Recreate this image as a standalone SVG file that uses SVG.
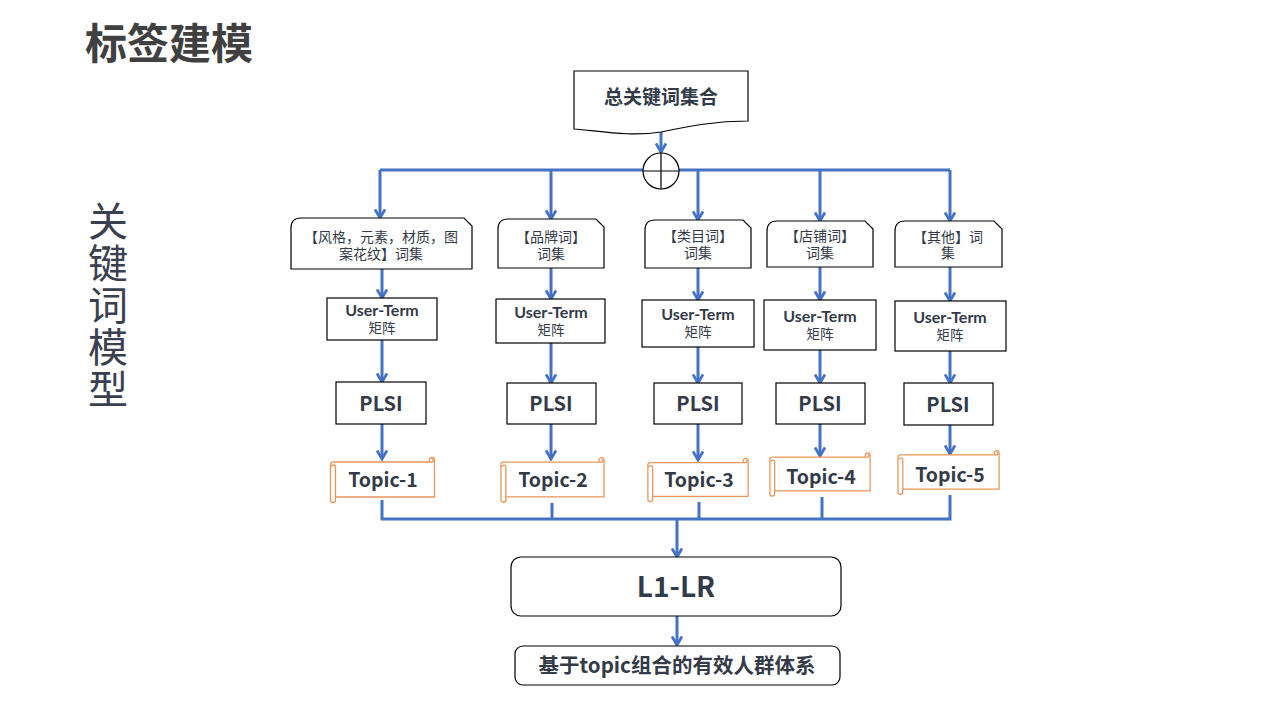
<svg xmlns="http://www.w3.org/2000/svg" width="1280" height="720" viewBox="0 0 1280 720">
<defs>
<style>
.t{font-family:"Noto Sans CJK SC","Microsoft YaHei",sans-serif;fill:#333a48;text-anchor:middle}
.t2{font-family:Lato,"Noto Sans CJK SC",sans-serif;fill:#333a48;text-anchor:middle}
.b{font-weight:bold}
.box{fill:#fff;stroke:#000;stroke-width:1.2}
.scroll{fill:#fff;stroke:#e8955a;stroke-width:1.3}
.c{fill:none;stroke:#4472c4;stroke-width:3}
</style>
<marker id="ah" viewBox="0 0 12 12" refX="10" refY="6" markerWidth="12" markerHeight="12" markerUnits="userSpaceOnUse" orient="auto">
<path d="M1.5,1 L10,6 L1.5,11" fill="none" stroke="#4472c4" stroke-width="2.8"/>
</marker>
<symbol id="scr" viewBox="0 0 110 46" width="110" height="46" overflow="visible">
<path class="scroll" d="M6,5 H102 V3 a2.5,2.5 0 0 1 5,0 V40 H8 V43 a2.5,2.5 0 0 1 -5,0 V8 a2.5,2.5 0 0 1 3,-3 Z"/>
<path class="scroll" d="M102,5 H104.5 a1.2,1.2 0 0 0 0,-2.5 M8,40 V10 a2,2 0 0 0 -4,0"/>
</symbol>
</defs>
<rect width="1280" height="720" fill="#fff"/>

<text class="t b" x="169" y="59" font-size="42" style="fill:#404040">标签建模</text>
<g id="side">
<text x="108" y="201" font-family="Noto Sans CJK SC, sans-serif" font-size="40" writing-mode="vertical-rl" letter-spacing="2" style="fill:#3a4050;text-anchor:start">关键词模型</text>
</g>

<g id="connectors">
<path class="c" d="M661,130 V152" marker-end="url(#ah)"/>
<path class="c" d="M380,170 H950"/>
<path class="c" d="M380,170 V218" marker-end="url(#ah)"/>
<path class="c" d="M551,170 V219" marker-end="url(#ah)"/>
<path class="c" d="M698,170 V220" marker-end="url(#ah)"/>
<path class="c" d="M820,170 V221" marker-end="url(#ah)"/>
<path class="c" d="M950,170 V221" marker-end="url(#ah)"/>

<path class="c" d="M382,269 V298" marker-end="url(#ah)"/>
<path class="c" d="M551,268 V299" marker-end="url(#ah)"/>
<path class="c" d="M698,268 V300" marker-end="url(#ah)"/>
<path class="c" d="M820,267 V300" marker-end="url(#ah)"/>
<path class="c" d="M950,267 V301" marker-end="url(#ah)"/>

<path class="c" d="M382,340 V382" marker-end="url(#ah)"/>
<path class="c" d="M551,343 V383" marker-end="url(#ah)"/>
<path class="c" d="M698,347 V383" marker-end="url(#ah)"/>
<path class="c" d="M820,350 V383" marker-end="url(#ah)"/>
<path class="c" d="M950,351 V383" marker-end="url(#ah)"/>

<path class="c" d="M382,424 V459" marker-end="url(#ah)"/>
<path class="c" d="M551,424 V459" marker-end="url(#ah)"/>
<path class="c" d="M698,424 V460" marker-end="url(#ah)"/>
<path class="c" d="M820,424 V456" marker-end="url(#ah)"/>
<path class="c" d="M950,425 V454" marker-end="url(#ah)"/>

<path class="c" d="M382,500 V519 H950 V495"/>
<path class="c" d="M552,503 V519"/>
<path class="c" d="M699,502 V519"/>
<path class="c" d="M822,497 V519"/>
<path class="c" d="M677,519 V557" marker-end="url(#ah)"/>
<path class="c" d="M677,616 V645" marker-end="url(#ah)"/>
</g>

<g id="doc">
<path class="box" d="M574,71 H748 V121 C715,121 690,126 661,132 C630,137 600,131 574,129 Z"/>
<text class="t b" x="661" y="104" font-size="19">总关键词集合</text>
</g>
<g id="sum">
<circle cx="661" cy="171" r="18" fill="#fff" stroke="#000" stroke-width="1.2"/>
<path d="M643,171 H679 M661,153 V189" stroke="#000" stroke-width="1.2"/>
</g>

<g id="set1">
<path class="box" d="M291,269 V228 Q291,218 301,218 H464 L472,226 V269 Z"/>
<text class="t2" font-size="14"><tspan x="381" y="242">【风格，元素，材质，图</tspan><tspan x="381" y="259">案花纹】词集</tspan></text>
</g>
<g id="set2">
<path class="box" d="M498,268 V229 Q498,219 508,219 H596 L604,227 V268 Z"/>
<text class="t2" font-size="14"><tspan x="551" y="242">【品牌词】</tspan><tspan x="551" y="259">词集</tspan></text>
</g>
<g id="set3">
<path class="box" d="M645,268 V230 Q645,220 655,220 H743 L751,228 V268 Z"/>
<text class="t2" font-size="14"><tspan x="698" y="241">【类目词】</tspan><tspan x="698" y="258">词集</tspan></text>
</g>
<g id="set4">
<path class="box" d="M767,267 V231 Q767,221 777,221 H865 L873,229 V267 Z"/>
<text class="t2" font-size="14"><tspan x="820" y="241">【店铺词】</tspan><tspan x="820" y="258">词集</tspan></text>
</g>
<g id="set5">
<path class="box" d="M895,267 V231 Q895,221 905,221 H994 L1002,229 V267 Z"/>
<text class="t2" font-size="14"><tspan x="948" y="242">【其他】词</tspan><tspan x="948" y="258">集</tspan></text>
</g>

<g id="ut1"><rect class="box" x="327" y="298" width="110" height="42"/>
<text class="t2" font-size="13.5"><tspan x="382" y="316" class="b" font-size="16">User-Term</tspan><tspan x="382" y="333">矩阵</tspan></text></g>
<g id="ut2"><rect class="box" x="496" y="299" width="109" height="44"/>
<text class="t2" font-size="13.5"><tspan x="551" y="318" class="b" font-size="16">User-Term</tspan><tspan x="551" y="335">矩阵</tspan></text></g>
<g id="ut3"><rect class="box" x="642" y="300" width="112" height="47"/>
<text class="t2" font-size="13.5"><tspan x="698" y="320" class="b" font-size="16">User-Term</tspan><tspan x="698" y="337">矩阵</tspan></text></g>
<g id="ut4"><rect class="box" x="764" y="300" width="112" height="50"/>
<text class="t2" font-size="13.5"><tspan x="820" y="322" class="b" font-size="16">User-Term</tspan><tspan x="820" y="339">矩阵</tspan></text></g>
<g id="ut5"><rect class="box" x="895" y="301" width="111" height="50"/>
<text class="t2" font-size="13.5"><tspan x="950" y="323" class="b" font-size="16">User-Term</tspan><tspan x="950" y="340">矩阵</tspan></text></g>

<g id="p1"><rect class="box" x="336" y="382" width="90" height="42"/><text class="t b" x="381" y="411" font-size="20">PLSI</text></g>
<g id="p2"><rect class="box" x="507" y="383" width="89" height="41"/><text class="t b" x="551" y="411" font-size="20">PLSI</text></g>
<g id="p3"><rect class="box" x="654" y="383" width="88" height="41"/><text class="t b" x="698" y="411" font-size="20">PLSI</text></g>
<g id="p4"><rect class="box" x="776" y="383" width="89" height="41"/><text class="t b" x="820" y="411" font-size="20">PLSI</text></g>
<g id="p5"><rect class="box" x="904" y="383" width="89" height="42"/><text class="t b" x="948" y="412" font-size="20">PLSI</text></g>

<g id="topic1"><use href="#scr" x="327" y="457" width="111" height="46"/><text class="t b" x="383" y="487" font-size="19.5">Topic-1</text></g>
<g id="topic2"><use href="#scr" x="498" y="457" width="109" height="46"/><text class="t b" x="553" y="487" font-size="19.5">Topic-2</text></g>
<g id="topic3"><use href="#scr" x="645" y="456" width="106" height="48"/><text class="t b" x="699" y="487" font-size="19.5">Topic-3</text></g>
<g id="topic4"><use href="#scr" x="767" y="452" width="106" height="45"/><text class="t b" x="821" y="484" font-size="19.5">Topic-4</text></g>
<g id="topic5"><use href="#scr" x="895" y="450" width="107" height="45"/><text class="t b" x="950" y="482" font-size="19.5">Topic-5</text></g>

<g id="l1lr"><rect class="box" x="511" y="557" width="330" height="59" rx="10"/><text class="t b" x="676" y="597" font-size="28">L1-LR</text></g>
<g id="result"><rect class="box" x="515" y="646" width="325" height="39" rx="8"/><text class="t b" x="677" y="673" font-size="20.5">基于topic组合的有效人群体系</text></g>
</svg>
